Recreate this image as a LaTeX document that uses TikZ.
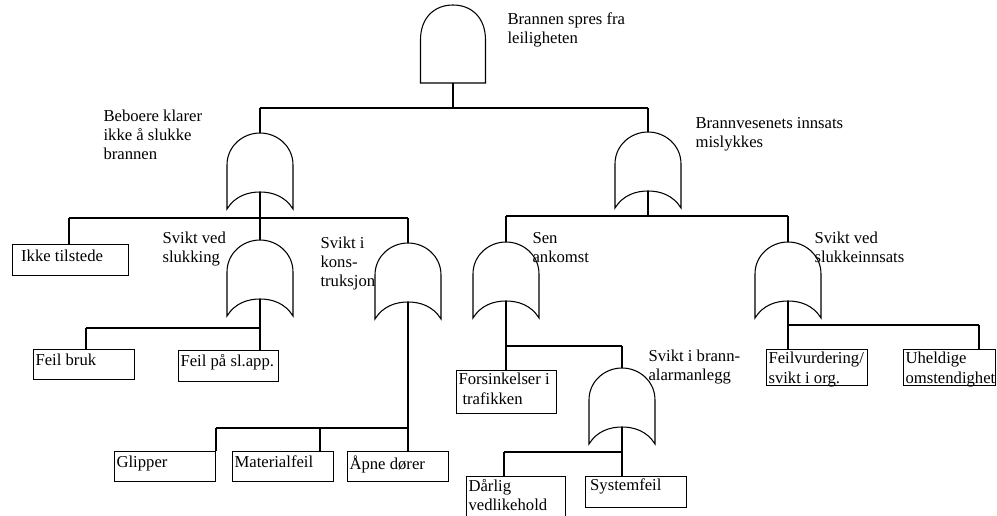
\documentclass[tikz,border=0pt]{standalone}
\usepackage{fontspec}
\setmainfont{Liberation Serif}
\tikzset{
  lbl/.style={anchor=north west, inner sep=0pt, align=left, font=\fontsize{12.5}{14.5}\selectfont},
  evbox/.style={draw, anchor=north west, inner xsep=1.5pt, inner ysep=0pt, font=\fontsize{12.5}{14.5}\selectfont},
  orgate/.pic={
    \draw (-33,32) .. controls (-33,13) and (-17,0) .. (0,0)
          .. controls (17,0) and (33,13) .. (33,32) -- (33,76)
          .. controls (25,63) and (12,59) .. (0,59)
          .. controls (-12,59) and (-25,63) .. (-33,76) -- cycle;
    \coordinate (-top) at (0,0);
    \coordinate (-bot) at (0,59);
  },
  andgate/.pic={
    \draw (-32.5,35) .. controls (-32.5,12) and (-18,0) .. (0,0)
          .. controls (18,0) and (32.5,12) .. (32.5,35) -- (32.5,78)
          -- (-32.5,78) -- cycle;
    \coordinate (-top) at (0,0);
    \coordinate (-bot) at (0,78);
  }
}
\newcommand\bxt[3]{\parbox[t][#1][t]{#2}{\raggedright #3}}
\begin{document}
\begin{tikzpicture}[x=0.75pt,y=-0.75pt,line width=0.8pt]
\clip (0,0) rectangle (997,516);
\useasboundingbox (0,0) rectangle (997,516);

% gates
\pic (g0) at (453,5) {andgate};
\pic (gB) at (260,133) {orgate};
\pic (gC) at (648,132) {orgate};
\pic (gS) at (260,240) {orgate};
\pic (gK) at (408,243) {orgate};
\pic (gA) at (506,242) {orgate};
\pic (gR) at (788,242) {orgate};
\pic (gF) at (622,368) {orgate};

% gate labels
\node[lbl] (t0) at (507,12) {Brannen spres fra\\leiligheten};
\node[lbl] (tB) at (103,109) {Beboere klarer\\ikke å slukke\\brannen};
\node[lbl] (tC) at (695,117) {Brannvesenets innsats\\mislykkes};
\node[lbl] (tS) at (162,231) {Svikt ved\\slukking};
\node[lbl] (tK) at (320,236) {Svikt i\\kons-\\truksjon};
\node[lbl] (tA) at (532,232) {Sen\\ankomst};
\node[lbl] (tR) at (814,231) {Svikt ved\\slukkeinnsats};
\node[lbl] (tF) at (648,349) {Svikt i brann-\\alarmanlegg};

% event boxes
\node[evbox] (ikke) at (12,244) {\bxt{23pt}{84pt}{\vspace{4pt}\hspace*{5pt}Ikke tilstede}};
\node[evbox] (feilbruk) at (33,349) {\bxt{22.5pt}{73pt}{\vspace{3pt}Feil bruk}};
\node[evbox] (feilpaa) at (178,350) {\bxt{23pt}{72pt}{\vspace{3pt}Feil på sl.app.}};
\node[evbox] (glipper) at (114,451) {\bxt{22.5pt}{73pt}{\vspace{3pt}Glipper}};
\node[evbox] (matfeil) at (232,451) {\bxt{22.5pt}{73pt}{\vspace{3pt}Materialfeil}};
\node[evbox] (apne) at (347,451) {\bxt{22.5pt}{73pt}{\vspace{3pt}Åpne dører}};
\node[evbox] (forsink) at (456,370) {\bxt{32pt}{72pt}{\vspace{2pt}Forsinkelser i\\\hspace*{3pt}trafikken}};
\node[evbox] (darlig) at (466,476) {\bxt{40pt}{71pt}{\vspace{2pt}Dårlig\\vedlikehold}};
\node[evbox] (sysfeil) at (585,476) {\bxt{23pt}{73pt}{\vspace{2pt}\hspace*{2pt}Systemfeil}};
\node[evbox] (feilvur) at (766,349) {\bxt{27pt}{73pt}{\vspace{2pt}Feilvurdering/\\svikt i org.}};
\node[evbox] (uheld) at (903,349) {\bxt{27pt}{66pt}{\vspace{2pt}Uheldige\\omstendighet}};

% bus coordinates
\coordinate (b0L) at (260,108); \coordinate (b0R) at (648,108);
\coordinate (b1L) at (69,218);  \coordinate (b1R) at (408,218);
\coordinate (b2L) at (86,328);  \coordinate (b2R) at (260,328);
\coordinate (b3L) at (216,428); \coordinate (b3M) at (320,428); \coordinate (b3R) at (408,428);
\coordinate (b4L) at (506,216); \coordinate (b4R) at (788,216);
\coordinate (b5L) at (506,346); \coordinate (b5R) at (622,346);
\coordinate (b6L) at (504,452); \coordinate (b6R) at (622,452);
\coordinate (b7L) at (788,325); \coordinate (b7R) at (979,325);

% connectors
\draw (g0-bot) -- (g0-bot |- b0L);
\draw (b0L) -- (b0R);
\draw (b0L) -- (gB-top);
\draw (b0R) -- (gC-top);

\draw (gB-bot) -- (gS-top);
\draw (b1L) -- (b1R);
\draw (b1L) -- (b1L |- ikke.north);
\draw (b1R) -- (gK-top);

\draw (gS-bot) -- (gS-bot |- feilpaa.north);
\draw (b2L) -- (b2R);
\draw (b2L) -- (b2L |- feilbruk.north);

\draw (gK-bot) -- (gK-bot |- apne.north);
\draw (b3L) -- (b3R);
\draw (b3L) -- (b3L |- glipper.north);
\draw (b3M) -- (b3M |- matfeil.north);

\draw (gC-bot) -- (gC-bot |- b4L);
\draw (b4L) -- (b4R);
\draw (b4L) -- (gA-top);
\draw (b4R) -- (gR-top);

\draw (gA-bot) -- (gA-bot |- forsink.north);
\draw (b5L) -- (b5R);
\draw (b5R) -- (gF-top);

\draw (gF-bot) -- (gF-bot |- sysfeil.north);
\draw (b6L) -- (b6R);
\draw (b6L) -- (b6L |- darlig.north);

\draw (gR-bot) -- (gR-bot |- feilvur.north);
\draw (b7L) -- (b7R);
\draw (b7R) -- (b7R |- uheld.north);
\end{tikzpicture}
\end{document}
